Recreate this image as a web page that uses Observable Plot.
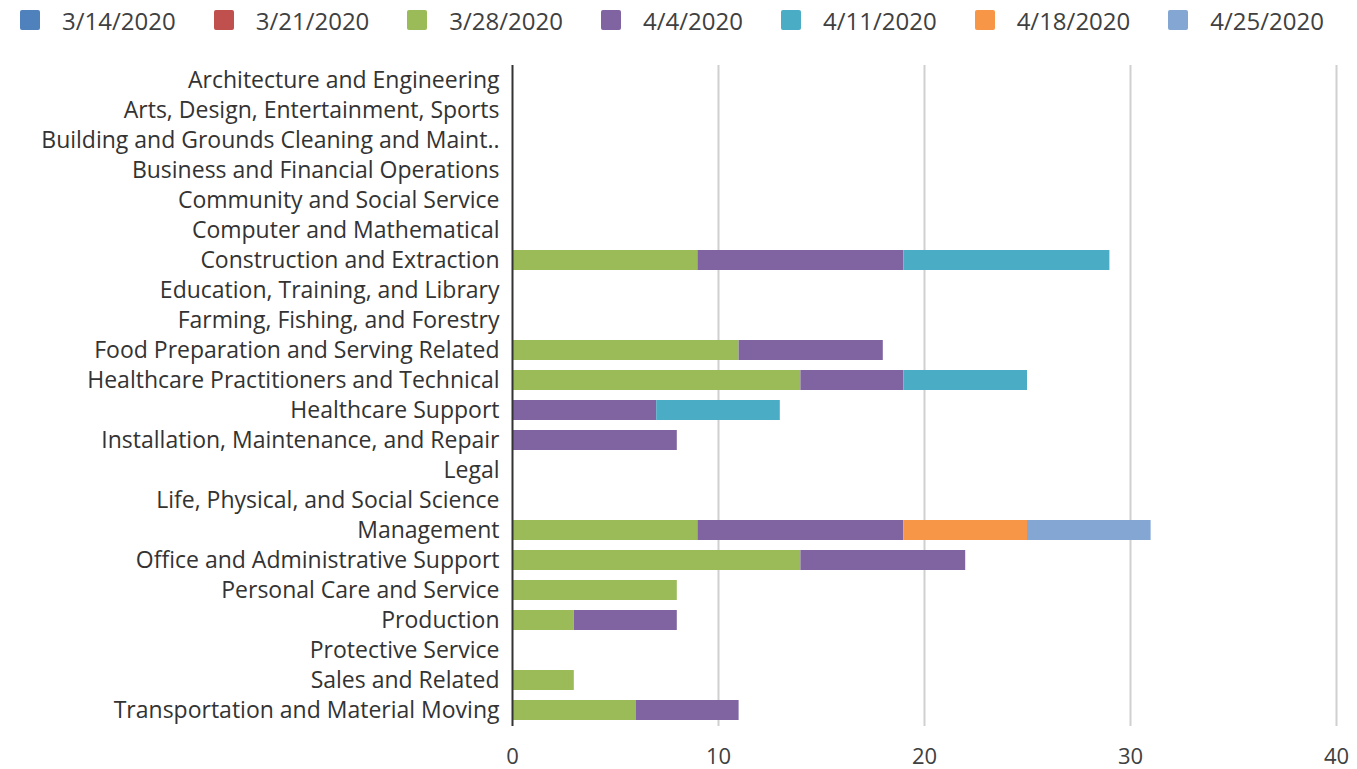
<!DOCTYPE html>
<html><head><meta charset="utf-8">
<script src="https://cdn.jsdelivr.net/npm/d3@7"></script>
<script src="https://cdn.jsdelivr.net/npm/@observablehq/plot@0.6"></script>
<style>
body{margin:0;background:#fff;font-family:"Open Sans",sans-serif;}
#wrap{position:relative;width:1357px;height:769px;overflow:hidden}
#legend{position:absolute;top:0;left:20px;height:40px;display:flex;align-items:center;font-size:24px;color:#404040;white-space:nowrap;z-index:2}
.item{display:flex;align-items:center;margin-right:38px}
.sw{width:20px;height:20px;border-radius:2px;margin-right:22px}
#chart{position:absolute;top:0;left:0;z-index:1}
</style></head>
<body><div id="wrap"><div id="chart"></div><div id="legend"></div></div>
<script>
const categories = ["Architecture and Engineering","Arts, Design, Entertainment, Sports","Building and Grounds Cleaning and Maint..","Business and Financial Operations","Community and Social Service","Computer and Mathematical","Construction and Extraction","Education, Training, and Library","Farming, Fishing, and Forestry","Food Preparation and Serving Related","Healthcare Practitioners and Technical","Healthcare Support","Installation, Maintenance, and Repair","Legal","Life, Physical, and Social Science","Management","Office and Administrative Support","Personal Care and Service","Production","Protective Service","Sales and Related","Transportation and Material Moving"];
const dates = ["3/14/2020","3/21/2020","3/28/2020","4/4/2020","4/11/2020","4/18/2020","4/25/2020"];
const colors = ["#4F81BD","#C0504D","#9BBB59","#8064A2","#4BACC6","#F79646","#84A6D3"];
const s0314 = [0,0,0,0,0,0,0,0,0,0,0,0,0,0,0,0,0,0,0,0,0,0];
const s0321 = [0,0,0,0,0,0,0,0,0,0,0,0,0,0,0,0,0,0,0,0,0,0];
const s0328 = [0,0,0,0,0,0,9,0,0,11,14,0,0,0,0,9,14,8,3,0,3,6];
const s0404 = [0,0,0,0,0,0,10,0,0,7,5,7,8,0,0,10,8,0,5,0,0,5];
const s0411 = [0,0,0,0,0,0,10,0,0,0,6,6,0,0,0,0,0,0,0,0,0,0];
const s0418 = [0,0,0,0,0,0,0,0,0,0,0,0,0,0,0,6,0,0,0,0,0,0];
const s0425 = [0,0,0,0,0,0,0,0,0,0,0,0,0,0,0,6,0,0,0,0,0,0];
const xTicks = [0,10,20,30,40];

const series = [s0314,s0321,s0328,s0404,s0411,s0418,s0425];
const data = [];
series.forEach((s,i)=>s.forEach((v,j)=>{ if(v>0) data.push({date:dates[i],category:categories[j],value:v}); }));

const legend = document.getElementById("legend");
dates.forEach((d,i)=>{
  const it=document.createElement("div"); it.className="item";
  const sw=document.createElement("div"); sw.className="sw"; sw.style.background=colors[i];
  const t=document.createElement("span"); t.textContent=d;
  it.appendChild(sw); it.appendChild(t); legend.appendChild(it);
});

const chart = Plot.plot({
  width:1357, height:769,
  marginTop:65, marginBottom:43, marginLeft:512, marginRight:21,
  style:{fontFamily:"'Open Sans', sans-serif", color:"#333", background:"#fff"},
  x:{domain:[0,40], axis:null, label:null},
  y:{domain:categories, paddingInner:0.33, paddingOuter:0.165, axis:null, label:null},
  color:{domain:dates, range:colors},
  marks:[
    Plot.ruleX(xTicks.filter(d=>d>0), {stroke:"#d0d0d0", strokeWidth:2}),
    Plot.barX(data, Plot.stackX({x:"value", y:"category", fill:"date", order:dates})),
    Plot.ruleX([0], {stroke:"#333", strokeWidth:2}),
    Plot.axisX(xTicks, {tickSize:0, tickPadding:22, fontSize:22, fill:"#404040", label:null}),
    Plot.axisY({tickSize:0, tickPadding:13, fontSize:23, fill:"#333", label:null})
  ]
});
document.getElementById("chart").appendChild(chart);
</script></body></html>
